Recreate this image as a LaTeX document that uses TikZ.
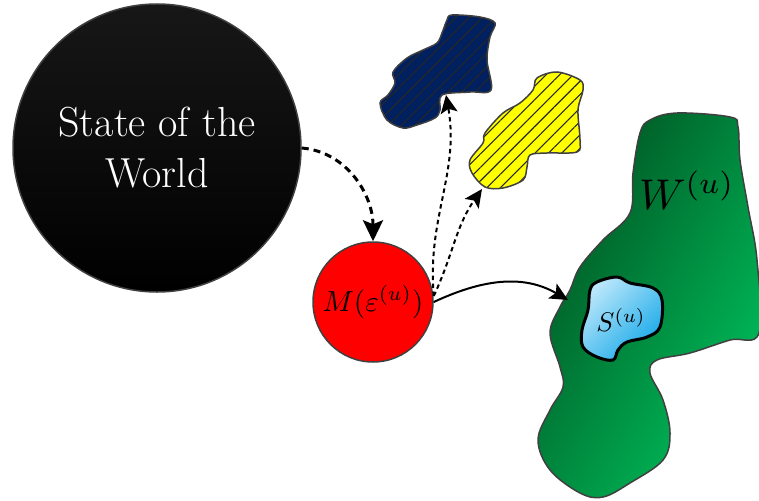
\documentclass[tikz,border=0pt]{standalone}
\usetikzlibrary{arrows.meta,patterns.meta}
\definecolor{navyc}{RGB}{0,32,96}
\definecolor{yel}{RGB}{255,255,0}
\definecolor{gdark}{RGB}{0,88,36}
\definecolor{glight}{RGB}{0,184,88}
\definecolor{slight}{RGB}{210,240,253}
\definecolor{sdark}{RGB}{0,160,230}
\definecolor{edge}{RGB}{64,64,64}
\begin{document}
\begin{tikzpicture}[x=1pt,y=1pt,
  blob/.style={draw=edge,line width=1.5pt},
  hatch/.style={pattern={Lines[angle=45,distance=9.5pt,line width=1.1pt]},pattern color=black!85},
  bigtip/.style={-{Stealth[length=18pt,width=17pt,inset=4pt]}},
  hugetip/.style={-{Stealth[length=21pt,width=20pt,inset=4pt]}},
  dashedarrow/.style={hugetip,line width=3pt,dash pattern=on 7pt off 5pt},
  dottedarrow/.style={bigtip,line width=2pt,dash pattern=on 4.5pt off 3.5pt},
  solidarrow/.style={bigtip,line width=2pt},
  disc/.style={circle,draw=edge,line width=1.5pt,inner sep=0pt}]
\useasboundingbox (0,0) rectangle (759,-500);

% green region W
\def\greenpath{plot[smooth cycle,tension=0.6] coordinates{
  (650,-120) (677,-113) (730,-117) (738,-127) (740,-160) (748,-207) (757,-260) (759,-333)
  (730,-340) (690,-353) (657,-360) (650,-373) (663,-400) (670,-433) (663,-460) (630,-483)
  (603,-497) (580,-493) (550,-470) (538,-440) (550,-410) (563,-387) (560,-367) (550,-333)
  (560,-307) (570,-290) (580,-267) (603,-240) (630,-213) (633,-173) (640,-133)}}
\begin{scope}
  \clip \greenpath;
  \shade[left color=gdark,right color=glight,
    transform canvas={rotate around={-30:(648,-305)}}] (523,-565) rectangle (773,-45);
\end{scope}
\draw[blob] \greenpath;
\node (wlab) at (687,-190) {\scalebox{4.3}{$W^{(u)}$}};

% blue region S
\def\bluepath{plot[smooth cycle,tension=0.6] coordinates{
  (597,-282) (617,-277) (630,-283) (653,-288) (662,-300) (660,-327) (647,-337) (627,-342)
  (618,-350) (613,-360) (597,-357) (583,-347) (582,-330) (588,-310) (590,-290)}}
\begin{scope}
  \clip \bluepath;
  \shade[left color=slight,right color=sdark,
    transform canvas={rotate around={-45:(622,-318)}}] (570,-385) rectangle (674,-251);
\end{scope}
\draw[line width=3pt,draw=black] \bluepath;
\node (slab) at (621,-320) {\scalebox{2.7}{$S^{(u)}$}};
\coordinate (wentry) at (568,-300);

% navy hatched region
\draw[blob,preaction={fill=navyc},hatch]
  plot[smooth cycle,tension=0.55] coordinates{
  (452,-15) (480,-17) (495,-23) (490,-37) (487,-60) (491,-90) (470,-92) (442,-95)
  (440,-110) (435,-118) (417,-125) (403,-128) (387,-120) (380,-103) (388,-95) (395,-83)
  (393,-72) (407,-58) (423,-50) (437,-43) (442,-33) (447,-20)};
\coordinate (navytip) at (446,-95);

% yellow hatched region
\draw[blob,preaction={fill=yel},hatch]
  plot[smooth cycle,tension=0.55] coordinates{
  (537,-78) (557,-72) (580,-80) (583,-90) (578,-110) (580,-140) (577,-152) (547,-153)
  (530,-155) (527,-167) (523,-180) (503,-188) (485,-187) (472,-173) (470,-160) (483,-143)
  (485,-133) (503,-113) (520,-103) (533,-90)};
\coordinate (yeltip) at (482,-189);

% circles
\node[disc,top color=black!91,bottom color=black,minimum size=288pt,text=white,align=center,
  font=\fontsize{42}{51}\selectfont] (world) at (157,-148) {State of the\\World};
\node[disc,fill=red,minimum size=120pt]
  (model) at (373,-302) {\scalebox{2.9}{$M(\varepsilon^{(u)})$}};

% connectors
\draw[dashedarrow] (world.east) to[out=-5,in=90] (model.north);
\draw[dottedarrow] ([yshift=6pt]model.east) to[out=95,in=-80] (navytip);
\draw[dottedarrow] ([yshift=6pt]model.east) to[out=65,in=-125] (yeltip);
\draw[solidarrow] (model.east) to[out=25,in=150] (wentry);
\end{tikzpicture}
\end{document}
